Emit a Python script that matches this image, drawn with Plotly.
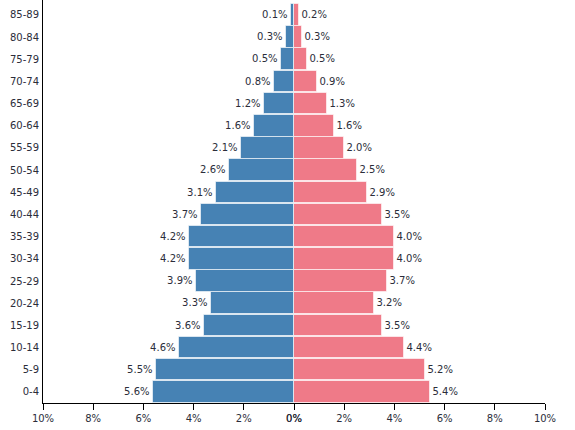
import plotly.graph_objects as go

ages = ["0-4", "5-9", "10-14", "15-19", "20-24", "25-29", "30-34", "35-39", "40-44",
        "45-49", "50-54", "55-59", "60-64", "65-69", "70-74", "75-79", "80-84", "85-89"]
male = [5.6, 5.5, 4.6, 3.6, 3.3, 3.9, 4.2, 4.2, 3.7, 3.1, 2.6, 2.1, 1.6, 1.2, 0.8, 0.5, 0.3, 0.1]
female = [5.4, 5.2, 4.4, 3.5, 3.2, 3.7, 4.0, 4.0, 3.5, 2.9, 2.5, 2.0, 1.6, 1.3, 0.9, 0.5, 0.3, 0.2]
tick_vals = [0, 2, 4, 6, 8, 10]
tick_text = ["0%", "2%", "4%", "6%", "8%", "10%"]

FONT = "DejaVu Sans, sans-serif"
TXT = "#2b2d3a"

fig = go.Figure()
fig.add_trace(go.Bar(
    y=ages, x=male, orientation="h", xaxis="x", yaxis="y",
    marker=dict(color="#4682b4", line=dict(color="rgba(255,255,255,0.6)", width=1)),
    width=0.97,
    text=[f"{v:.1f}%" for v in male], textposition="outside",
    textfont=dict(size=10, color=TXT, family=FONT),
    cliponaxis=False, constraintext="none", hoverinfo="skip",
))
fig.add_trace(go.Bar(
    y=ages, x=female, orientation="h", xaxis="x2", yaxis="y",
    marker=dict(color="#ef7a88", line=dict(color="rgba(255,255,255,0.6)", width=1)),
    width=0.97,
    text=[f"{v:.1f}%" for v in female], textposition="outside",
    textfont=dict(size=10, color=TXT, family=FONT),
    cliponaxis=False, constraintext="none", hoverinfo="skip",
))

axis_common = dict(
    tickmode="array", tickvals=tick_vals, ticktext=tick_text,
    showgrid=False, zeroline=False, showline=True, linecolor="#000", linewidth=1,
    ticks="outside", ticklen=6, tickcolor="#000", tickwidth=1, automargin=False,
    tickfont=dict(size=10, color=TXT, family=FONT), anchor="y",
)

fig.update_layout(
    width=575, height=430,
    margin=dict(l=43, r=30, t=0, b=27),
    paper_bgcolor="white", plot_bgcolor="white",
    showlegend=False, bargap=0,
    font=dict(family=FONT, size=10, color=TXT),
    xaxis=dict(domain=[0, 0.5], range=[10, 0], **axis_common),
    xaxis2=dict(domain=[0.5, 1], range=[0, 10], **axis_common),
    yaxis=dict(
        type="category", categoryorder="array", categoryarray=ages,
        range=[-0.5, 17.67], showline=True, linecolor="#000", linewidth=1,
        showgrid=False, zeroline=False, ticks="", ticklabelstandoff=1,
        automargin=False,
        tickfont=dict(size=10, color=TXT, family=FONT), anchor="x",
    ),
)

fig.write_html("out.html", config={"displayModeBar": False},
               post_script="document.body.style.margin='0';")
